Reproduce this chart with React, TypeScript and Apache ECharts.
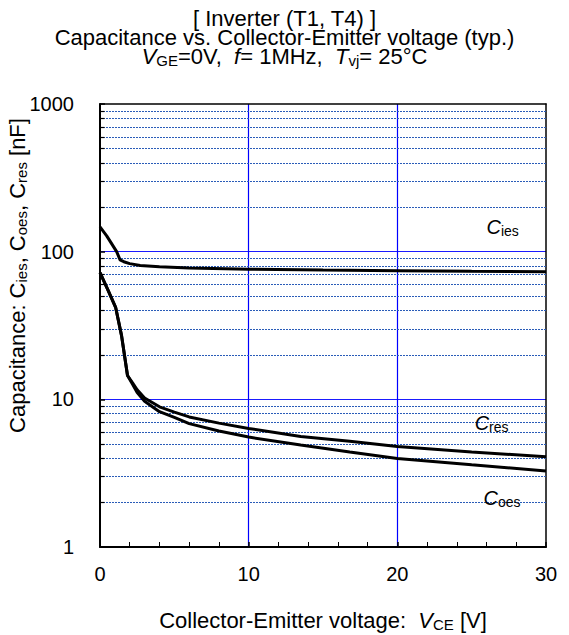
import React, { useEffect, useRef } from "react";
import * as echarts from "echarts";

// ---- data ----
const ciesV = [0, 0.45, 1.12, 1.35, 1.6, 2, 2.7, 4, 6, 10, 15, 20, 25, 30];
const ciesC = [147, 128, 100, 88, 85.5, 83, 80.5, 79, 77.4, 76, 75, 74.2, 73.6, 73.2];

const lowV = [0, 0.5, 1.05, 1.45, 1.85, 2.2, 2.5, 3, 4, 5, 6, 8, 10, 13.5, 16.8, 20, 25, 30];
const cresC = [72, 56, 42, 27, 14.5, 12.9, 11.6, 10.2, 8.9, 8.2, 7.6, 6.9, 6.35, 5.6, 5.2, 4.8, 4.4, 4.09];
const coesC = [72, 56, 42, 27, 14.5, 12.6, 11.1, 9.7, 8.25, 7.55, 6.85, 6.1, 5.55, 4.9, 4.4, 3.98, 3.6, 3.27];

const xTicks = [0, 10, 20, 30];
const yMajor = [1, 10, 100, 1000];
const yMinor = [2, 3, 4, 5, 6, 7, 8, 9, 20, 30, 40, 50, 60, 70, 80, 90, 200, 300, 400, 500, 600, 700, 800, 900];

const labelCies = { v: 26.0, c: 147, sub: "ies" };
const labelCres = { v: 25.2, c: 6.95, sub: "res" };
const labelCoes = { v: 25.8, c: 2.15, sub: "oes" };

const FONT = "'Liberation Sans', Arial, sans-serif";

const zip = (xs: number[], ys: number[]) => xs.map((x, i) => [x, ys[i]]);

export default function App() {
  const ref = useRef<HTMLDivElement>(null);
  useEffect(() => {
    if (!ref.current) return;
    const chart = echarts.init(ref.current, undefined, { renderer: "svg" });
    const mkRich = (size: number, sub: number, lh: number) => ({
      i: { fontStyle: "italic", fontSize: size, fontFamily: FONT, color: "#000", lineHeight: lh },
      c: { fontSize: size, fontFamily: FONT, color: "#000", lineHeight: lh },
      sub: { fontSize: sub, fontFamily: FONT, color: "#000", lineHeight: lh, padding: [8, 0, 0, 0] },
    });
    const curveLine = { color: "#000", width: 3 };
    const mkLabel = (l: { v: number; c: number; sub: string }) => ({
      coord: [l.v, l.c],
      symbol: "circle",
      symbolSize: 0,
      label: {
        show: true,
        position: "right",
        distance: 0,
        formatter: "{i|C}{sub|" + l.sub + "}",
        rich: mkRich(20, 14, 20),
      },
    });
    chart.setOption({
      animation: false,
      backgroundColor: "#fff",
      textStyle: { fontFamily: FONT, color: "#000" },
      title: {
        left: "center",
        top: 4,
        text:
          "[ Inverter (T1, T4) ]\nCapacitance vs. Collector-Emitter voltage (typ.)\n{i|V}{sub|GE}=0V,  {i|f}= 1MHz,  {i|T}{sub|vj}= 25°C",
        textStyle: {
          fontFamily: FONT,
          fontSize: 22,
          fontWeight: "normal",
          color: "#000",
          lineHeight: 19,
          rich: mkRich(22, 15, 19),
        },
      },
      grid: { left: 100, right: 23, top: 104, bottom: 88, containLabel: false, outerBoundsMode: "none" },
      xAxis: [
        {
          type: "value",
          min: xTicks[0],
          max: xTicks[xTicks.length - 1],
          interval: 10,
          name: "Collector-Emitter voltage:  {i|V}{sub|CE} [V]",
          nameLocation: "middle",
          nameGap: 63,
          nameMoveOverlap: false,
          nameTextStyle: { fontSize: 22, fontFamily: FONT, color: "#000", lineHeight: 20, rich: mkRich(22, 15, 20) },
          axisLine: { lineStyle: { color: "#000", width: 2 } },
          axisTick: { inside: true, length: 5, lineStyle: { color: "#000", width: 1.5 } },
          minorTick: { show: true, splitNumber: 5, length: 5, lineStyle: { color: "#000", width: 1 } },
          axisLabel: { fontSize: 20, fontFamily: FONT, color: "#000", margin: 17 },
          splitLine: { show: true, showMinLine: false, showMaxLine: false, lineStyle: { color: "#0000ff", width: 1.2 } },
        },
        {
          type: "value",
          position: "top",
          min: 0,
          max: 30,
          interval: 10,
          axisLine: { show: true, onZero: false, lineStyle: { color: "#000", width: 1.5 } },
          axisTick: { show: false },
          axisLabel: { show: false },
          splitLine: { show: false },
        },
      ],
      yAxis: [
        {
          type: "log",
          logBase: 10,
          min: yMajor[0],
          max: yMajor[yMajor.length - 1],
          name: "Capacitance: {c|C}{sub|ies}, {c|C}{sub|oes}, {c|C}{sub|res} [nF]",
          nameLocation: "middle",
          nameRotate: 90,
          nameGap: 73,
          nameMoveOverlap: false,
          nameTextStyle: {
            fontSize: 22,
            fontFamily: FONT,
            color: "#000",
            lineHeight: 20,
            padding: [0, 0, 0, 100],
            rich: mkRich(22, 15, 20),
          },
          axisLine: { show: true, lineStyle: { color: "#000", width: 2 } },
          axisTick: { show: true, inside: true, length: 5, lineStyle: { color: "#000", width: 1.5 } },
          axisLabel: {
            fontSize: 20,
            fontFamily: FONT,
            color: "#000",
            margin: 26,
            formatter: (v: number) => String(v),
          },
          splitLine: { show: true, showMinLine: false, showMaxLine: false, lineStyle: { color: "#1a1aff", width: 1.2 } },
        },
        {
          type: "log",
          logBase: 10,
          min: 1,
          max: 1000,
          position: "right",
          axisLine: { show: true, onZero: false, lineStyle: { color: "#000", width: 1.5 } },
          axisTick: { show: false },
          axisLabel: { show: false },
          splitLine: { show: false },
        },
      ],
      series: [
        {
          type: "line",
          name: "grid",
          data: [],
          z: 1,
          silent: true,
          markLine: {
            silent: true,
            symbol: ["none", "none"],
            label: { show: false },
            lineStyle: { color: "#2a5cb8", width: 1, type: [2, 1] },
            data: yMinor.map((v) => ({ yAxis: v })),
          },
        },
        {
          type: "line",
          name: "ticks",
          data: [],
          z: 2,
          silent: true,
          markLine: {
            silent: true,
            symbol: ["none", "none"],
            label: { show: false },
            lineStyle: { color: "#000", width: 1.2, type: "solid" },
            data: yMinor.map((v) => [{ coord: [0, v] }, { coord: [0.3, v] }]),
          },
        },
        {
          type: "line",
          name: "Cies",
          data: zip(ciesV, ciesC),
          showSymbol: false,
          lineStyle: curveLine,
          z: 5,
          markPoint: { silent: true, data: [mkLabel(labelCies)] },
        },
        {
          type: "line",
          name: "Cres",
          data: zip(lowV, cresC),
          showSymbol: false,
          lineStyle: curveLine,
          z: 5,
          markPoint: { silent: true, data: [mkLabel(labelCres)] },
        },
        {
          type: "line",
          name: "Coes",
          data: zip(lowV, coesC),
          showSymbol: false,
          lineStyle: curveLine,
          z: 5,
          markPoint: { silent: true, data: [mkLabel(labelCoes)] },
        },
      ],
    });
    return () => chart.dispose();
  }, []);
  return (
    <div
      ref={ref}
      style={{ position: "fixed", left: 0, top: 0, width: 569, height: 635, background: "#fff" }}
    />
  );
}
